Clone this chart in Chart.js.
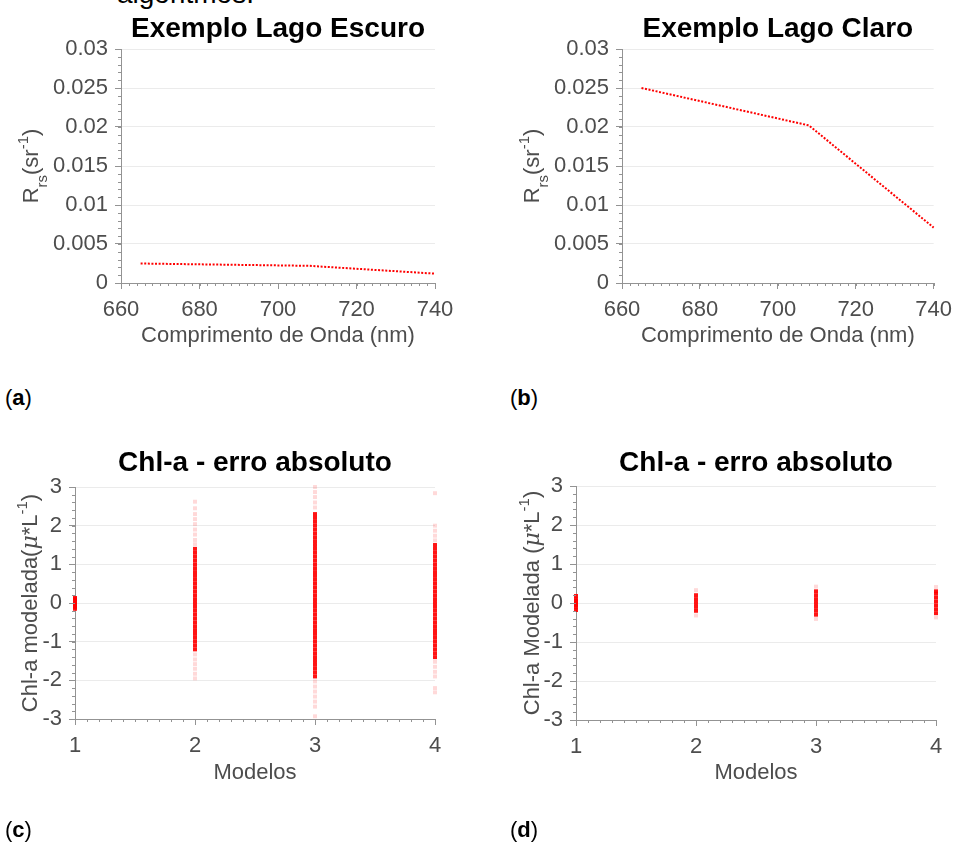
<!DOCTYPE html>
<html lang="pt">
<head>
<meta charset="utf-8">
<title>Rrs e erro absoluto de Chl-a</title>
<script src="https://cdn.jsdelivr.net/npm/chart.js@4/dist/chart.umd.min.js"></script>
<style>
  html, body { margin: 0; padding: 0; background: #fff; }
  body { width: 955px; height: 849px; position: relative; overflow: hidden;
         font-family: 'Liberation Sans', Arial, Helvetica, sans-serif; }
  .painel { position: absolute; }
  .letra { position: absolute; font-size: 22px; line-height: 26px; color: #000; }
  #texto-topo { position: absolute; left: 117px; top: -22px; font-size: 28px; line-height: 32px; color: #000; }
</style>
</head>
<body>
<div id="texto-topo">algoritmos.</div>

<div class="painel" style="left:0;top:0"><canvas id="gA" width="470" height="360"></canvas></div>
<div class="painel" style="left:500px;top:0"><canvas id="gB" width="460" height="360"></canvas></div>
<div class="painel" style="left:0;top:440px"><canvas id="gC" width="470" height="400"></canvas></div>
<div class="painel" style="left:500px;top:440px"><canvas id="gD" width="460" height="400"></canvas></div>

<div class="letra" style="left:5px;top:385px">(<b>a</b>)</div>
<div class="letra" style="left:510px;top:385px">(<b>b</b>)</div>
<div class="letra" style="left:5px;top:817px">(<b>c</b>)</div>
<div class="letra" style="left:510px;top:817px">(<b>d</b>)</div>

<script>
// Rrs (sr^-1) por comprimento de onda
const comprimentoOnda = [665, 708, 740];
const rrsLagoEscuro = [0.0025, 0.0022, 0.0012];
const rrsLagoClaro = [0.0250, 0.0202, 0.0071];

// erro absoluto de Chl-a por modelo (1 a 4)
const modelos = [1, 2, 3, 4];
const erroC1 = [-0.15, -0.1, -0.05, 0, 0.05, 0.1, 0.13];
const erroC2 = [2.62, 2.45, 2.3, 2.17, 2.04, 1.9, 1.77, 1.63, 1.52,
  1.4, 1.3, 1.2, 1.1, 1.0, 0.9, 0.8, 0.7, 0.6, 0.5, 0.4, 0.3, 0.2, 0.1, 0,
  -0.1, -0.2, -0.3, -0.4, -0.5, -0.6, -0.7, -0.8, -0.9, -1.0, -1.1, -1.2,
  -1.33, -1.46, -1.58, -1.7, -1.83, -1.95];
const erroC3 = [3.0, 2.87, 2.74, 2.6, 2.47,
  2.3, 2.2, 2.1, 2.0, 1.9, 1.8, 1.7, 1.6, 1.5, 1.4, 1.3, 1.2, 1.1, 1.0, 0.9,
  0.8, 0.7, 0.6, 0.5, 0.4, 0.3, 0.2, 0.1, 0, -0.1, -0.2, -0.3, -0.4, -0.5,
  -0.6, -0.7, -0.8, -0.9, -1.0, -1.1, -1.2, -1.3, -1.4, -1.5, -1.6, -1.7,
  -1.8, -1.9,
  -2.03, -2.16, -2.29, -2.42, -2.55, -2.68, -2.93];
const erroC4 = [2.84, 2.0, 1.87, 1.74, 1.62,
  1.5, 1.4, 1.3, 1.2, 1.1, 1.0, 0.9, 0.8, 0.7, 0.6, 0.5, 0.4, 0.3, 0.2, 0.1,
  0, -0.1, -0.2, -0.3, -0.4, -0.5, -0.6, -0.7, -0.8, -0.9, -1.0, -1.1, -1.2,
  -1.3, -1.4,
  -1.52, -1.65, -1.78, -1.9, -2.2, -2.31];
const erroD1 = [-0.18, -0.1, -0.05, 0, 0.05, 0.1, 0.18];
const erroD2 = [-0.32, -0.2, -0.1, 0, 0.1, 0.2, 0.33];
const erroD3 = [-0.41, -0.3, -0.2, -0.1, 0, 0.1, 0.2, 0.3, 0.42];
const erroD4 = [-0.37, -0.26, -0.16, -0.06, 0.04, 0.14, 0.24, 0.3, 0.41];

const fonte = "'Liberation Sans', Arial, Helvetica, sans-serif";
const corTexto = '#4d4d4d';
const corEixo = '#939393';
const corGrade = '#ebebeb';

// titulo do eixo y com subscrito/sobrescrito, girado 90 graus
const tituloY = {
  id: 'tituloY',
  afterDraw(chart, args, opts) {
    if (!opts.partes) return;
    const { ctx, chartArea } = chart;
    const fontePara = p => (p.italico ? 'italic ' : '') + ((p.sub || p.sup) ? 15 : 22) + 'px ' +
      (p.serif ? "'DejaVu Serif', 'Liberation Serif', serif" : fonte);
    ctx.save();
    ctx.translate(chartArea.left - opts.dx, (chartArea.top + chartArea.bottom) / 2);
    ctx.rotate(-Math.PI / 2);
    ctx.fillStyle = corTexto;
    ctx.textBaseline = 'alphabetic';
    let total = 0;
    opts.partes.forEach(p => { ctx.font = fontePara(p); total += ctx.measureText(p.t).width; });
    let x = -total / 2;
    opts.partes.forEach(p => {
      ctx.font = fontePara(p);
      ctx.fillText(p.t, x, p.sub ? 9 : (p.sup ? -10 : 0));
      x += ctx.measureText(p.t).width;
    });
    ctx.restore();
  }
};

// marcas menores nos dois eixos
const ticksMenores = {
  id: 'ticksMenores',
  afterDraw(chart, args, opts) {
    const { ctx, chartArea, scales: { x, y } } = chart;
    ctx.save();
    ctx.strokeStyle = corEixo;
    ctx.lineWidth = 1;
    ctx.beginPath();
    const n = Math.round((x.max - x.min) / opts.x);
    for (let k = 0; k <= n; k++) {
      const px = Math.round(x.getPixelForValue(x.min + k * opts.x)) + 0.5;
      ctx.moveTo(px, chartArea.bottom);
      ctx.lineTo(px, chartArea.bottom + 3);
    }
    const m = Math.round((y.max - y.min) / opts.y);
    for (let k = 0; k <= m; k++) {
      const py = Math.round(y.getPixelForValue(y.min + k * opts.y)) + 0.5;
      ctx.moveTo(chartArea.left, py);
      ctx.lineTo(chartArea.left - 3, py);
    }
    ctx.stroke();
    ctx.restore();
  }
};

function eixoX(min, max, passo, titulo, altura, folga) {
  return {
    type: 'linear', min, max,
    ticks: { stepSize: passo, color: corTexto, font: { family: fonte, size: 22 }, padding: 8,
             maxRotation: 0, autoSkip: false },
    grid: { drawOnChartArea: false, tickLength: 6, tickColor: corEixo },
    border: { color: corEixo },
    title: { display: true, text: titulo, color: corTexto, font: { family: fonte, size: 22 },
             padding: { top: 0, bottom: folga } },
    afterFit: s => { s.height = altura; }
  };
}

function eixoY(min, max, passo, largura, formato) {
  return {
    type: 'linear', min, max,
    ticks: { stepSize: passo, color: corTexto, font: { family: fonte, size: 22 }, padding: 7,
             callback: formato },
    grid: { color: corGrade, tickLength: 6, tickColor: corEixo },
    border: { color: corEixo },
    afterFit: s => { s.width = largura; }
  };
}

function opcoes(titulo, geo, escalas, partesY, menores) {
  return {
    responsive: false, animation: false, events: [],
    layout: { padding: { top: 0, left: 0, right: geo.direita, bottom: 0 } },
    plugins: {
      legend: { display: false },
      tooltip: { enabled: false },
      title: { display: true, text: titulo, fullSize: false, color: '#000',
               font: { family: fonte, size: 28, weight: 'bold' },
               padding: { top: geo.tituloTopo, bottom: geo.tituloBase } },
      tituloY: partesY,
      ticksMenores: menores
    },
    scales: escalas
  };
}

const rotuloRrs = [{ t: 'R' }, { t: 'rs', sub: true }, { t: '(sr' }, { t: '-1', sup: true }, { t: ')' }];
const formatoRrs = v => String(Math.round(v * 1000) / 1000);

function graficoRrs(id, titulo, valores, geo) {
  return new Chart(document.getElementById(id), {
    type: 'line',
    data: {
      datasets: [{
        data: comprimentoOnda.map((x, i) => ({ x, y: valores[i] })),
        borderColor: '#ff0000', borderWidth: 2, borderDash: [2, 1.6],
        pointRadius: 0, tension: 0, clip: false
      }]
    },
    options: opcoes(titulo, geo, {
      x: eixoX(660, 740, 20, 'Comprimento de Onda (nm)', 77, 10.8),
      y: eixoY(0, 0.03, 0.005, geo.larguraY, formatoRrs)
    }, { partes: rotuloRrs, dx: 83 }, { x: 2, y: 0.001 }),
    plugins: [tituloY, ticksMenores]
  });
}

// pontos isolados ficam claros, pontos agrupados ficam vermelho forte
function serieErro(modelo, valores) {
  return {
    data: valores.map(v => ({ x: modelo, y: v })),
    pointStyle: 'rect', pointRadius: 2.8, pointBorderWidth: 0, showLine: false, clip: false,
    pointBackgroundColor: valores.map(v =>
      valores.filter(w => Math.abs(w - v) < 0.105).length > 1 ? 'rgba(255,0,0,0.92)' : 'rgba(255,0,0,0.15)')
  };
}

function graficoErro(id, series, partesY, geo) {
  return new Chart(document.getElementById(id), {
    type: 'scatter',
    data: { datasets: series.map((valores, i) => serieErro(modelos[i], valores)) },
    options: opcoes('Chl-a - erro absoluto', geo, {
      x: eixoX(1, 4, 1, 'Modelos', geo.alturaX, geo.folgaX),
      y: eixoY(-3, 3, 1, geo.larguraY, v => String(v))
    }, { partes: partesY, dx: geo.dx }, { x: 0.1, y: 0.2 }),
    plugins: [tituloY, ticksMenores]
  });
}

graficoRrs('gA', 'Exemplo Lago Escuro', rrsLagoEscuro,
  { direita: 35, tituloTopo: 12.2, tituloBase: 3.2, larguraY: 121 });
graficoRrs('gB', 'Exemplo Lago Claro', rrsLagoClaro,
  { direita: 24, tituloTopo: 12.2, tituloBase: 3.2, larguraY: 122 });

graficoErro('gC', [erroC1, erroC2, erroC3, erroC4],
  [{ t: 'Chl-a modelada(' }, { t: 'μ', italico: true, serif: true }, { t: '*L' }, { t: '-1', sup: true }, { t: ')' }],
  { direita: 35, tituloTopo: 6.2, tituloBase: 7.2, larguraY: 75, alturaX: 121, folgaX: 53.8, dx: 38 });
graficoErro('gD', [erroD1, erroD2, erroD3, erroD4],
  [{ t: 'Chl-a Modelada (' }, { t: 'μ', italico: true, serif: true }, { t: '*L' }, { t: '-1', sup: true }, { t: ')' }],
  { direita: 24, tituloTopo: 6.2, tituloBase: 6.2, larguraY: 76, alturaX: 120, folgaX: 53.5, dx: 37 });
</script>
</body>
</html>
